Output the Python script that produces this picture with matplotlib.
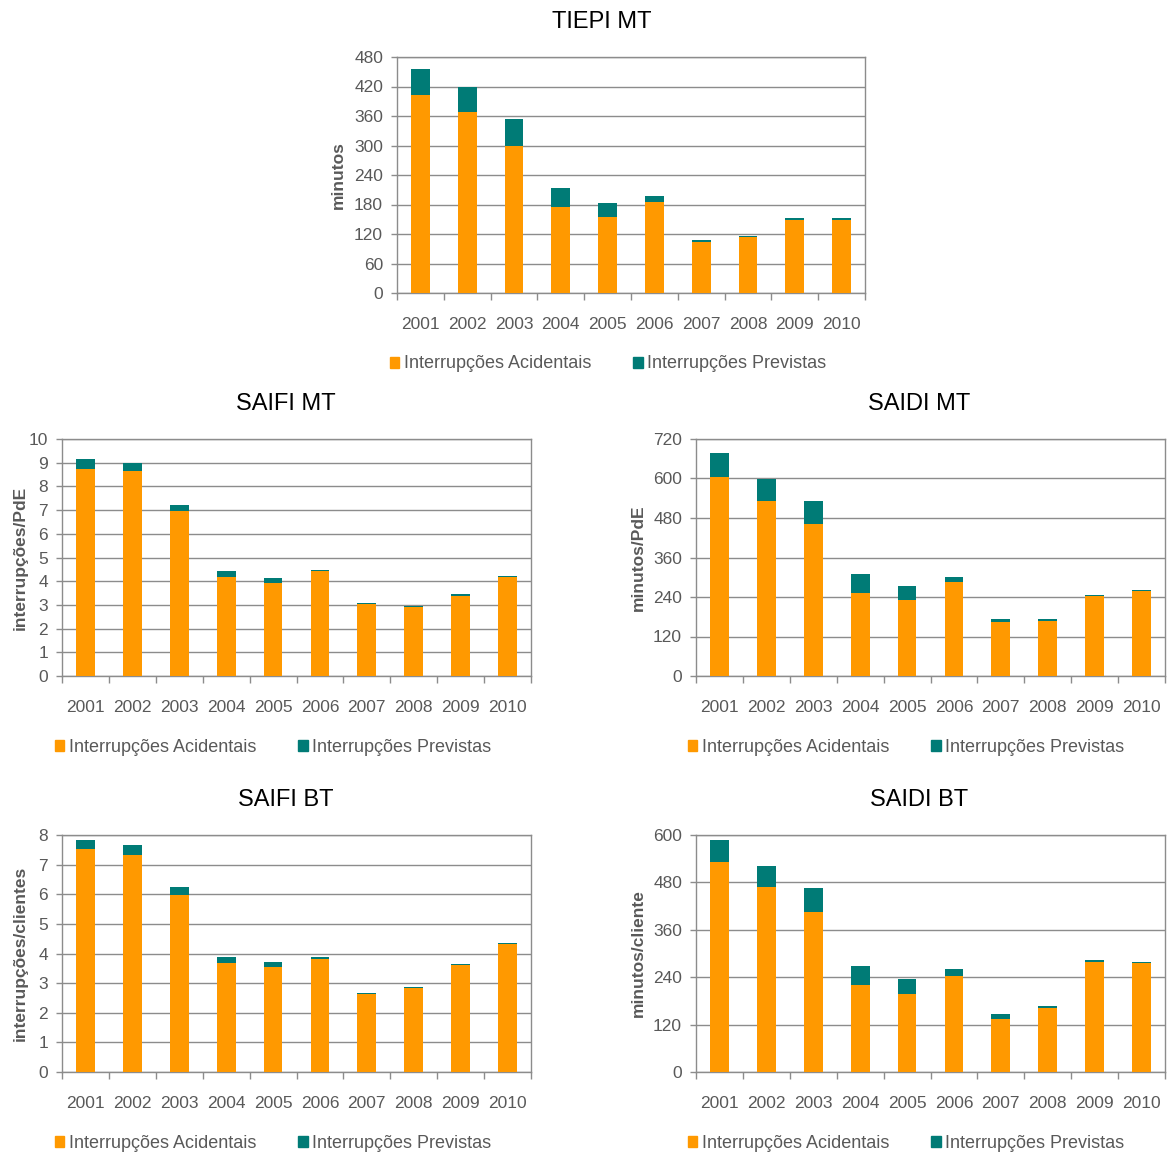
import numpy as np
import matplotlib
matplotlib.use("Agg")
import matplotlib.pyplot as plt
from matplotlib.patches import Patch

plt.rcParams['font.family'] = ['Liberation Sans', 'DejaVu Sans']

anos = ['2001', '2002', '2003', '2004', '2005', '2006', '2007', '2008', '2009', '2010']

# valores (acidentais e previstas)
tiepi_acid = [402, 368, 298, 174, 155, 185, 104, 113, 149, 149]
tiepi_prev = [53, 51, 56, 40, 28, 12, 3, 3, 3, 3]

saifi_mt_acid = [8.75, 8.64, 6.96, 4.19, 3.91, 4.43, 3.04, 2.92, 3.39, 4.19]
saifi_mt_prev = [0.39, 0.35, 0.26, 0.23, 0.23, 0.06, 0.05, 0.05, 0.05, 0.05]

saidi_mt_acid = [604, 533, 462, 252, 230, 286, 164, 168, 244, 257]
saidi_mt_prev = [72, 64, 71, 58, 43, 16, 8, 4, 3, 3]

saifi_bt_acid = [7.52, 7.32, 5.96, 3.67, 3.53, 3.82, 2.64, 2.83, 3.62, 4.33]
saifi_bt_prev = [0.31, 0.33, 0.28, 0.22, 0.18, 0.07, 0.04, 0.03, 0.04, 0.03]

saidi_bt_acid = [532, 468, 405, 219, 197, 244, 135, 163, 279, 275]
saidi_bt_prev = [55, 53, 61, 49, 39, 17, 11, 3, 4, 4]

LARANJA = '#FF9900'
VERDE = '#007B76'
CINZA = '#595959'
LINHA = '#8C8C8C'

W, H = 1171, 1153
fig = plt.figure(figsize=(W / 100, H / 100), dpi=100)


def painel(left, top, right, bottom, titulo, ylabel, ylab_x, acid, prev, ymax, passo, centro, leg_x):
    ax = fig.add_axes([left / W, 1 - bottom / H, (right - left) / W, (bottom - top) / H])
    x = np.arange(len(anos))
    ax.bar(x, acid, width=0.4, color=LARANJA, zorder=3)
    ax.bar(x, prev, width=0.4, bottom=acid, color=VERDE, zorder=3)
    ax.set_xlim(-0.5, 9.5)
    ax.set_ylim(0, ymax)
    ax.set_yticks(np.arange(0, ymax + passo / 2, passo))
    ax.yaxis.grid(True, color=LINHA, linewidth=1, zorder=0)
    ax.set_axisbelow(True)
    ax.set_xticks(np.arange(-0.5, 10, 1))
    ax.set_xticklabels([])
    ax.set_xticks(x, minor=True)
    ax.set_xticklabels(anos, minor=True)
    ax.tick_params(axis='x', which='major', length=5, color=LINHA, width=1)
    ax.tick_params(axis='x', which='minor', length=0, pad=17.5, labelsize=12.5, labelcolor=CINZA)
    ax.tick_params(axis='y', length=4, color=LINHA, width=1, labelsize=12.5, labelcolor=CINZA, pad=6)
    for s in ax.spines.values():
        s.set_color(LINHA)
        s.set_linewidth(1)
    fig.text(centro / W, 1 - (top - 35) / H, titulo, ha='center', va='center', fontsize=17, color='black')
    fig.text(ylab_x / W, 1 - (top + bottom) / 2 / H, ylabel, rotation=90, ha='center', va='center',
             fontsize=12.5, fontweight='bold', color=CINZA)
    handles = [Patch(color=LARANJA, label='Interrupções Acidentais'),
               Patch(color=VERDE, label='Interrupções Previstas')]
    ax.legend(handles=handles, loc='center', bbox_to_anchor=(leg_x / W, 1 - (bottom + 71) / H),
              bbox_transform=fig.transFigure, ncol=2, frameon=False, fontsize=13,
              handlelength=0.55, handleheight=0.55, handletextpad=0.25, columnspacing=2.3,
              labelcolor=CINZA)
    return ax


painel(397, 57, 865, 293, 'TIEPI MT', 'minutos', 338, tiepi_acid, tiepi_prev, 480, 60, 602, 608)
painel(62, 439, 531, 676, 'SAIFI MT', 'interrupções/PdE', 20, saifi_mt_acid, saifi_mt_prev, 10, 1, 286, 273)
painel(696, 439, 1165, 676, 'SAIDI MT', 'minutos/PdE', 638, saidi_mt_acid, saidi_mt_prev, 720, 120, 919, 906)
painel(62, 835, 531, 1072, 'SAIFI BT', 'interrupções/clientes', 20, saifi_bt_acid, saifi_bt_prev, 8, 1, 286, 273)
painel(696, 835, 1165, 1072, 'SAIDI BT', 'minutos/cliente', 638, saidi_bt_acid, saidi_bt_prev, 600, 120, 919, 906)

fig.savefig('out.png', dpi=100, facecolor='white')
